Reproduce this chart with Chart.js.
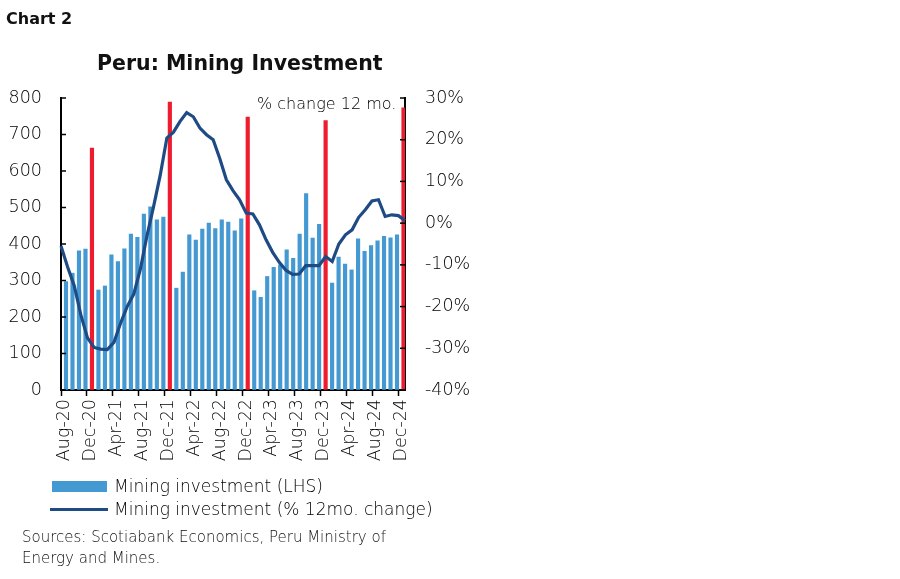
<!DOCTYPE html>
<html>
<head>
<meta charset="utf-8">
<script src="https://cdn.jsdelivr.net/npm/chart.js@4.4.1/dist/chart.umd.min.js"></script>
<style>
  html, body { margin: 0; padding: 0; background: #fff; }
  body { width: 900px; height: 579px; position: relative; overflow: hidden; font-family: "DejaVu Sans", sans-serif; font-weight: 200; color: #000; }
  #chartMining { position: absolute; left: 0; top: 0; }
  .txt { position: absolute; white-space: nowrap; }
  #chartNo { left: 6px; top: 9px; font-size: 16px; font-weight: bold; color: #111; }
  #chartTitle { left: 97px; top: 51px; font-size: 20.5px; font-weight: bold; color: #111; }
  #pctNote { left: 257px; top: 94px; font-size: 16px; }
  .leg { left: 114px; font-size: 17px; }
  .sw { position: absolute; }
  #src { left: 22px; top: 527px; font-size: 15px; line-height: 21px; color: #111; }
</style>
</head>
<body>
<canvas id="chartMining" width="500" height="579"></canvas>
<div class="txt" id="chartNo">Chart 2</div>
<div class="txt" id="chartTitle">Peru: Mining Investment</div>
<div class="txt" id="pctNote">% change 12 mo.</div>
<div class="sw" style="left:52px;top:481px;width:55px;height:11px;background:#4499d2;"></div>
<div class="txt leg" style="top:476px;">Mining investment (LHS)</div>
<div class="sw" style="left:50px;top:508px;width:58px;height:3px;background:#1f4b85;"></div>
<div class="txt leg" style="top:499px;">Mining investment (% 12mo. change)</div>
<div class="txt" id="src">Sources: Scotiabank Economics, Peru Ministry of<br>Energy and Mines.</div>
<script>
const months = [
  'Aug-20','Sep-20','Oct-20','Nov-20','Dec-20',
  'Jan-21','Feb-21','Mar-21','Apr-21','May-21','Jun-21','Jul-21','Aug-21','Sep-21','Oct-21','Nov-21','Dec-21',
  'Jan-22','Feb-22','Mar-22','Apr-22','May-22','Jun-22','Jul-22','Aug-22','Sep-22','Oct-22','Nov-22','Dec-22',
  'Jan-23','Feb-23','Mar-23','Apr-23','May-23','Jun-23','Jul-23','Aug-23','Sep-23','Oct-23','Nov-23','Dec-23',
  'Jan-24','Feb-24','Mar-24','Apr-24','May-24','Jun-24','Jul-24','Aug-24','Sep-24','Oct-24','Nov-24','Dec-24'
];

// US$ mn, left axis
const investment = [
  297, 320, 381, 386, 663,
  274, 285, 370, 352, 387, 427, 418, 482, 502, 466, 474, 789,
  279, 323, 425, 411, 441, 457, 442, 466, 460, 436, 469, 748,
  272, 254, 311, 336, 343, 384, 361, 427, 538, 416, 454, 738,
  293, 364, 345, 329, 414, 380, 396, 409, 421, 417, 425, 773
];

// % 12mo. change, right axis
const yoyChange = [
  -5.5, -10.5, -15, -22, -27.5,
  -29.8, -30.2, -30.3, -28.6, -24, -20, -17, -11, -3, 4, 11.5, 20.4,
  21.8, 24.4, 26.5, 25.5, 22.8, 21.2, 20, 15.5, 10.4, 7.8, 5.6, 2.4,
  2.2, -0.4, -4, -7, -9.4, -11.3, -12.3, -12.2, -10.2, -10.2, -10.2, -8,
  -9.2, -5, -2.8, -1.6, 1.4, 3.2, 5.3, 5.6, 1.6, 2.0, 1.8, 0.6
];

const blue = '#4499d2';
const red = '#ee1c2e';
const navy = '#1f4b85';
const barColors = months.map(m => m.startsWith('Dec') ? red : blue);

// small inward tick marks on both value axes
const innerTicks = {
  id: 'innerTicks',
  afterDatasetsDraw(chart) {
    const ctx = chart.ctx, a = chart.chartArea;
    ctx.save();
    ctx.strokeStyle = '#000';
    ctx.lineWidth = 1.5;
    chart.scales.y.ticks.forEach(t => {
      const py = chart.scales.y.getPixelForValue(t.value);
      ctx.beginPath(); ctx.moveTo(a.left, py); ctx.lineTo(a.left + 5, py); ctx.stroke();
    });
    chart.scales.y2.ticks.forEach(t => {
      const py = chart.scales.y2.getPixelForValue(t.value);
      ctx.beginPath(); ctx.moveTo(a.right - 5, py); ctx.lineTo(a.right, py); ctx.stroke();
    });
    ctx.restore();
  }
};

const tickFont = { family: '"DejaVu Sans", sans-serif', size: 17.5, weight: 200 };

new Chart(document.getElementById('chartMining').getContext('2d'), {
  type: 'bar',
  data: {
    labels: months,
    datasets: [{
      type: 'line',
      label: 'Mining investment (% 12mo. change)',
      data: yoyChange,
      xAxisID: 'x2',
      yAxisID: 'y2',
      borderColor: navy,
      borderWidth: 3.2,
      pointRadius: 0,
      tension: 0,
      order: 0
    }, {
      label: 'Mining investment (LHS)',
      data: investment,
      backgroundColor: barColors,
      barThickness: 3.5,
      yAxisID: 'y',
      order: 1
    }]
  },
  options: {
    responsive: false,
    animation: false,
    devicePixelRatio: 1,
    layout: { padding: { top: 98, left: 0, right: 0, bottom: 0 } },
    plugins: { legend: { display: false }, tooltip: { enabled: false } },
    scales: {
      x: {
        type: 'category',
        offset: true,
        grid: {
          offset: true,
          drawOnChartArea: false,
          tickLength: 6,
          tickWidth: 1.5,
          tickColor: c => (c.index % 4 === 0 ? '#000' : 'rgba(0,0,0,0)')
        },
        border: { color: '#000', width: 2 },
        ticks: {
          autoSkip: false,
          minRotation: 90,
          maxRotation: 90,
          padding: 3,
          color: '#000',
          font: tickFont,
          callback: function (v, i) { return i % 4 === 0 ? months[i] : ''; }
        },
        afterFit: s => { s.height = 189; }
      },
      x2: {
        type: 'category',
        offset: false,
        display: false
      },
      y: {
        position: 'left',
        min: 0,
        max: 800,
        grid: { drawOnChartArea: false, drawTicks: false },
        border: { color: '#000', width: 2 },
        ticks: { stepSize: 100, padding: 19, color: '#000', font: tickFont },
        afterFit: s => { s.width = 61; }
      },
      y2: {
        position: 'right',
        min: -40,
        max: 30,
        grid: { drawOnChartArea: false, drawTicks: false },
        border: { color: '#000', width: 2 },
        ticks: {
          stepSize: 10,
          padding: 20,
          color: '#000',
          font: tickFont,
          callback: v => v + '%'
        },
        afterFit: s => { s.width = 95; }
      }
    }
  },
  plugins: [innerTicks]
});
</script>
</body>
</html>
